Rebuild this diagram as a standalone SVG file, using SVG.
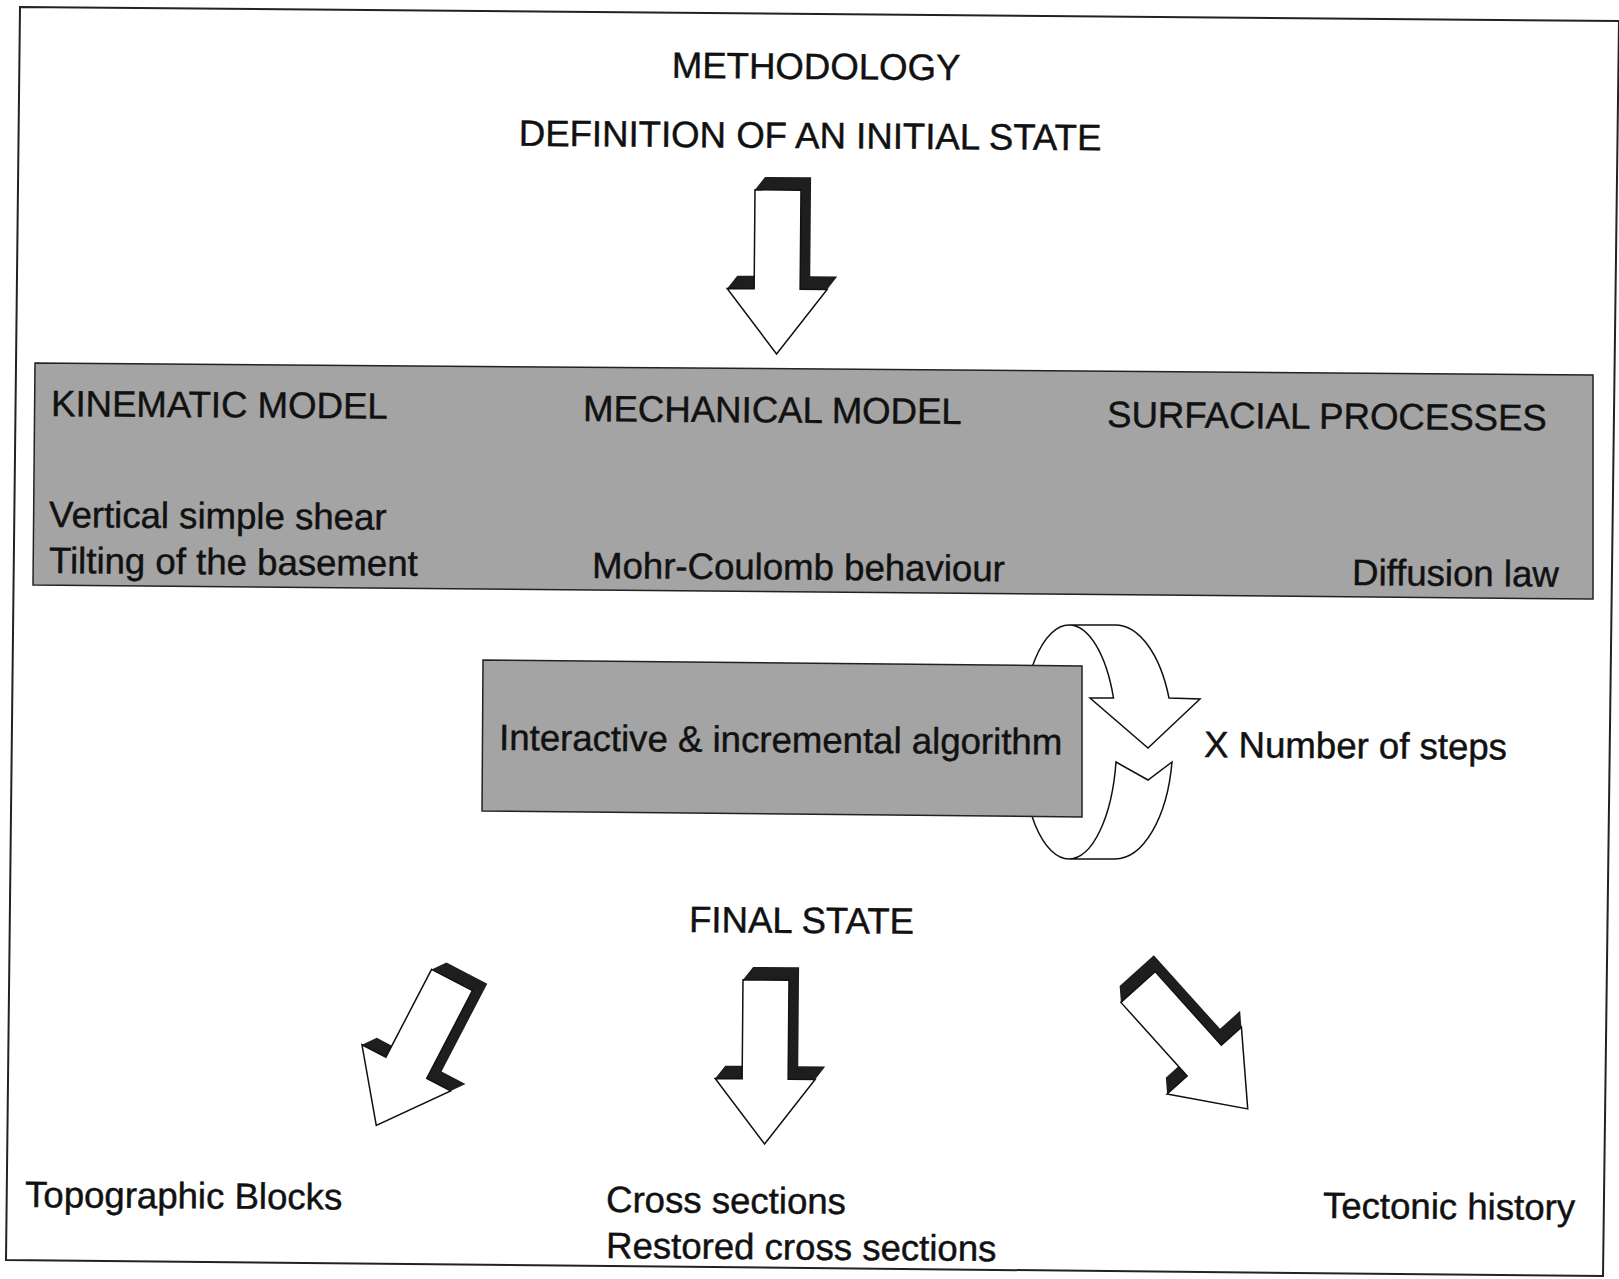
<svg xmlns="http://www.w3.org/2000/svg" xmlns:xlink="http://www.w3.org/1999/xlink" width="1619" height="1279" viewBox="0 0 1619 1279">
  <style>
    .t { font-family: "Liberation Sans", Arial, sans-serif; font-size: 36.6px; fill: #111; stroke: #111; stroke-width: 0.45px; }
    .box { fill: #a4a4a4; stroke: #222; stroke-width: 1.5; }
    .frame { fill: none; stroke: #222; stroke-width: 2; }
    .ring { fill: #fff; stroke: #111; stroke-width: 1.5; stroke-linejoin: miter; }
    .ringline { fill: none; stroke: #111; stroke-width: 1.5; }
  </style>
  <defs>
    <!-- block arrow pointing down, extruded up-right; origin = top centre of the shaft -->
    <g id="arrow3d">
      <polygon fill="#1e1e1e" points="-23,0 -13,-13 33,-13 33,86 60,86 50,99 0,164 -50,99 -40,86 -23,86"/>
      <polygon fill="#fff" stroke="#111" stroke-width="1.5" points="-23,0 23,0 23,99 50,99 0,164 -50,99 -23,99"/>
    </g>
  </defs>

  <rect x="0" y="0" width="1619" height="1279" fill="#fff"/>
  <polygon class="frame" points="20,7 1619,21 1603,1276 6,1260"/>

  <!-- headings -->
  <g id="title">
    <text class="t" x="816" y="79" text-anchor="middle" transform="rotate(0.45 816 79)">METHODOLOGY</text>
  </g>
  <g id="initial-state">
    <text class="t" x="810" y="148" text-anchor="middle" transform="rotate(0.45 810 148)">DEFINITION OF AN INITIAL STATE</text>
  </g>

  <!-- loop arrow around the algorithm box (drawn first, the box hides its back part) -->
  <g id="loop-arrow">
    <path class="ringline" d="M1069,625 A48,117 0 0 0 1069,859"/>
    <path class="ring" d="M1069,625 L1115,625 A58,117 0 0 1 1169,698 L1200,699 L1148,748 L1090,698 L1113.5,698 A48,117 0 0 0 1069,625 Z"/>
    <path class="ring" d="M1116,762 L1148,780 L1172,762 A58,117 0 0 1 1115,859 L1069,859 A48,117 0 0 0 1116,762 Z"/>
  </g>

  <!-- model panel -->
  <g id="models">
    <polygon class="box" points="35,363 1593,375 1593,599 33,585"/>
    <text class="t" x="51" y="416" transform="rotate(0.45 51 416)">KINEMATIC MODEL</text>
    <text class="t" x="583" y="421" transform="rotate(0.45 583 421)">MECHANICAL MODEL</text>
    <text class="t" x="1107" y="427" transform="rotate(0.45 1107 427)">SURFACIAL PROCESSES</text>
    <text class="t" x="49" y="527" transform="rotate(0.45 49 527)">Vertical simple shear</text>
    <text class="t" x="49" y="573" transform="rotate(0.45 49 573)">Tilting of the basement</text>
    <text class="t" x="592" y="578" transform="rotate(0.45 592 578)">Mohr-Coulomb behaviour</text>
    <text class="t" x="1352" y="585" transform="rotate(0.45 1352 585)">Diffusion law</text>
  </g>

  <!-- algorithm box -->
  <g id="algorithm">
    <polygon class="box" points="483,660 1082,666 1082,817 482,811"/>
    <text class="t" x="499" y="750" transform="rotate(0.45 499 750)">Interactive &amp; incremental algorithm</text>
  </g>

  <g id="steps">
    <text class="t" x="1204" y="757" transform="rotate(0.45 1204 757)">X Number of steps</text>
  </g>

  <g id="final-state">
    <text class="t" x="689" y="932" transform="rotate(0.45 689 932)">FINAL STATE</text>
  </g>

  <!-- block arrows -->
  <g id="connectors">
    <g id="arrow-initial"><use xlink:href="#arrow3d" href="#arrow3d" transform="translate(778,190) rotate(0.5)"/></g>
    <g id="arrow-blocks"><use xlink:href="#arrow3d" href="#arrow3d" transform="translate(452,980) rotate(27.5)"/></g>
    <g id="arrow-sections"><use xlink:href="#arrow3d" href="#arrow3d" transform="translate(766,980) rotate(0.5)"/></g>
    <g id="arrow-history"><use xlink:href="#arrow3d" href="#arrow3d" transform="translate(1138,987) rotate(-42)"/></g>
  </g>

  <!-- results -->
  <g id="topographic-blocks">
    <text class="t" x="25" y="1207" transform="rotate(0.45 25 1207)">Topographic Blocks</text>
  </g>
  <g id="cross-sections">
    <text class="t" x="606" y="1212" transform="rotate(0.45 606 1212)">Cross sections</text>
    <text class="t" x="606" y="1258" transform="rotate(0.45 606 1258)">Restored cross sections</text>
  </g>
  <g id="tectonic-history">
    <text class="t" x="1575" y="1220" text-anchor="end" transform="rotate(0.45 1575 1220)">Tectonic history</text>
  </g>
</svg>
